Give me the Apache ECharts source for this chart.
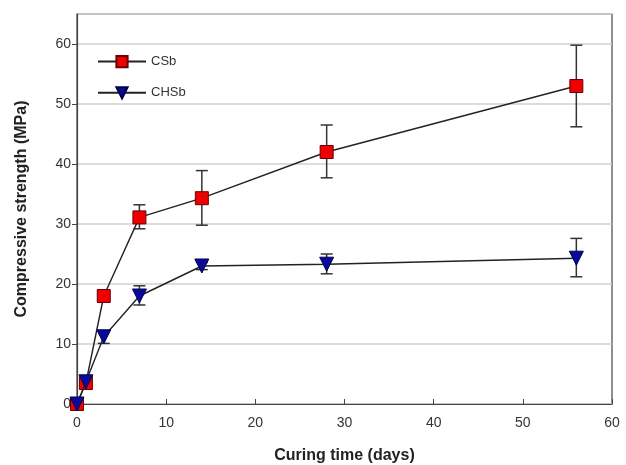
<!DOCTYPE html>
<html>
<head>
<meta charset="utf-8">
<script src="https://cdn.jsdelivr.net/npm/echarts@6/dist/echarts.min.js"></script>
<style>
  html, body { margin: 0; padding: 0; background: #fff; }
  #chart { width: 626px; height: 465px; }
</style>
</head>
<body>
<div id="chart"></div>
<script>
// curing time (days)
const days = [0, 1, 3, 7, 14, 28, 56];
// compressive strength (MPa), mean and error bar ends
const csb = [0, 3.5, 18, 31.1, 34.3, 42, 53];
const csbLow = [0, 3.0, 17.4, 29.2, 29.8, 37.7, 46.2];
const csbHigh = [0, 4.0, 18.6, 33.2, 38.9, 46.5, 59.8];
const chsb = [0, 3.7, 11.2, 18, 23, 23.3, 24.3];
const chsbLow = [0, 3.2, 10.1, 16.5, 22.4, 21.7, 21.2];
const chsbHigh = [0, 4.2, 12.1, 19.7, 23.6, 25, 27.6];
const xTicks = [0, 10, 20, 30, 40, 50, 60];

const chart = echarts.init(document.getElementById('chart'));

function errorSeries(name, low, high) {
  return {
    type: 'custom',
    name: name + ' err',
    z: 1,
    clip: false,
    data: days.map((d, i) => [d, low[i], high[i]]),
    renderItem: function (params, api) {
      const lo = api.coord([api.value(0), api.value(1)]);
      const hi = api.coord([api.value(0), api.value(2)]);
      const w = 6;
      const style = { stroke: '#333', lineWidth: 1.5 };
      return {
        type: 'group',
        children: [
          { type: 'line', shape: { x1: lo[0], y1: lo[1], x2: hi[0], y2: hi[1] }, style },
          { type: 'line', shape: { x1: lo[0] - w, y1: lo[1], x2: lo[0] + w, y2: lo[1] }, style },
          { type: 'line', shape: { x1: hi[0] - w, y1: hi[1], x2: hi[0] + w, y2: hi[1] }, style }
        ]
      };
    }
  };
}

const option = {
  animation: false,
  textStyle: { fontFamily: 'Liberation Sans, Arial, sans-serif' },
  grid: {
    left: 77, right: 14, top: 14, bottom: 61,
    outerBoundsMode: 'none',
    show: true, borderColor: '#444', borderWidth: 1.2
  },
  legend: {
    orient: 'vertical',
    left: 92, top: 50,
    itemWidth: 48, itemHeight: 14,
    itemGap: 18,
    textStyle: { fontSize: 13, color: '#333' },
    data: ['CSb', 'CHSb']
  },
  xAxis: {
    type: 'value',
    min: 0, max: 60, interval: 10,
    name: 'Curing time (days)',
    nameLocation: 'middle',
    nameGap: 44,
    nameTextStyle: { fontSize: 16, fontWeight: 'bold', color: '#222' },
    axisLine: { lineStyle: { color: '#444', width: 1.2 } },
    axisTick: { inside: true, length: 5, lineStyle: { color: '#444' } },
    axisLabel: {
      fontSize: 14, color: '#333', margin: 12,
      formatter: v => xTicks.indexOf(v) >= 0 ? String(v) : ''
    },
    splitLine: { show: false }
  },
  yAxis: {
    type: 'value',
    min: 0, max: 65, interval: 10,
    name: 'Compressive strength (MPa)',
    nameLocation: 'middle',
    nameGap: 47,
    nameTextStyle: { fontSize: 16, fontWeight: 'bold', color: '#222' },
    axisLine: { show: true, lineStyle: { color: '#444', width: 1.2 } },
    axisTick: { show: true, length: 5, lineStyle: { color: '#444' } },
    axisLabel: { fontSize: 14, color: '#333', margin: 6, showMaxLabel: false },
    splitLine: { lineStyle: { color: '#d0d0d0', width: 1.5 } }
  },
  series: [
    errorSeries('CSb', csbLow, csbHigh),
    errorSeries('CHSb', chsbLow, chsbHigh),
    {
      name: 'CSb',
      type: 'line',
      z: 3,
      clip: false,
      data: days.map((d, i) => [d, csb[i]]),
      symbol: 'rect',
      symbolSize: 13,
      itemStyle: { color: '#ee0000', borderColor: '#6a0000', borderWidth: 1 },
      lineStyle: { color: '#222', width: 1.4 }
    },
    {
      name: 'CHSb',
      type: 'line',
      z: 4,
      clip: false,
      data: days.map((d, i) => [d, chsb[i]]),
      symbol: 'triangle',
      symbolRotate: 180,
      symbolSize: 14,
      itemStyle: { color: '#0a0a9a', borderColor: '#000050', borderWidth: 1 },
      lineStyle: { color: '#222', width: 1.4 }
    }
  ]
};

chart.setOption(option);
window.addEventListener('resize', () => chart.resize(), false);
</script>
</body>
</html>
